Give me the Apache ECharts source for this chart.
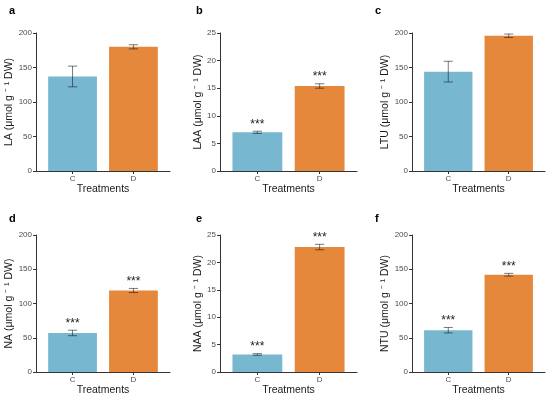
<!DOCTYPE html>
<html><head><meta charset="utf-8">
<script src="https://cdn.jsdelivr.net/npm/echarts@6/dist/echarts.min.js"></script>
<style>html,body{margin:0;padding:0;background:#fff}#c{width:550px;height:398px}</style>
</head><body><div id="c"></div>
<script>
const categories = ['C', 'D'];
const panelLetters = ['a', 'b', 'c', 'd', 'e', 'f'];
const yNames = ['LA', 'LAA', 'LTU', 'NA', 'NAA', 'NTU'];
const means_LA = [137, 180];   const se_LA = [15, 3];
const means_LAA = [7.0, 15.4]; const se_LAA = [0.2, 0.4];
const means_LTU = [144, 196];  const se_LTU = [15, 2.5];
const means_NA = [57, 119];    const se_NA = [4, 3];
const means_NAA = [3.2, 22.8]; const se_NAA = [0.15, 0.5];
const means_NTU = [61, 142];   const se_NTU = [4, 2];
const significant = [false, true, false, true, true, true];
const yMax = [200, 25, 200, 200, 25, 200];
const yInterval = [50, 5, 50, 50, 5, 50];
const barColors = ['#77b7d0', '#e5883b'];

const allMeans = [means_LA, means_LAA, means_LTU, means_NA, means_NAA, means_NTU];
const allSe = [se_LA, se_LAA, se_LTU, se_NA, se_NAA, se_NTU];

const grids = [
  {left: 36, top: 33, width: 134, height: 138},
  {left: 220, top: 33, width: 137, height: 138},
  {left: 412, top: 33, width: 133, height: 138},
  {left: 36, top: 235, width: 134, height: 137},
  {left: 220, top: 235, width: 137, height: 137},
  {left: 412, top: 235, width: 133, height: 137}
];
const letterPos = [[9, 5], [196, 5], [375, 5], [9, 213], [196, 213], [375, 213]];
const FONT = '"Liberation Sans", Arial, sans-serif';

const xAxes = [], yAxes = [], series = [], graphics = [];
grids.forEach((g, i) => {
  g.outerBoundsMode = 'none';
  g.containLabel = false;
  xAxes.push({
    type: 'value', gridIndex: i, min: 0.4, max: 2.6,
    name: 'Treatments', nameLocation: 'middle', nameGap: 13,
    nameTextStyle: {fontFamily: FONT, fontSize: 10.5, color: '#1a1a1a'},
    axisLine: {show: true, onZero: false, lineStyle: {color: '#333', width: 1}},
    axisTick: {show: true, length: 3, customValues: [1, 2], lineStyle: {color: '#333'}},
    axisLabel: {show: true, customValues: [1, 2], margin: 4, fontFamily: FONT, fontSize: 8, color: '#4d4d4d',
      formatter: v => categories[Math.round(v) - 1]},
    splitLine: {show: false}
  });
  yAxes.push({
    type: 'value', gridIndex: i, min: 0, max: yMax[i], interval: yInterval[i],
    name: yNames[i] + ' (μmol g ⁻ ¹ DW)', nameLocation: 'middle',
    nameGap: yMax[i] === 25 ? 16 : 21,
    nameTextStyle: {fontFamily: FONT, fontSize: 10.5, color: '#1a1a1a'},
    axisLine: {show: true, lineStyle: {color: '#333', width: 1}},
    axisTick: {show: true, length: 3, lineStyle: {color: '#333'}},
    axisLabel: {margin: 4, fontFamily: FONT, fontSize: 8, color: '#4d4d4d'},
    splitLine: {show: false}
  });
  const data = categories.map((c, k) => [k + 1, allMeans[i][k], allSe[i][k]]);
  const sig = significant[i];
  series.push({
    type: 'custom', xAxisIndex: i, yAxisIndex: i, data: data,
    renderItem: (params, api) => {
      const x = api.value(0), m = api.value(1), s = api.value(2);
      const p0 = api.coord([x - 0.4, m]);
      const p1 = api.coord([x + 0.4, 0]);
      const top = api.coord([x, m + s]);
      const bot = api.coord([x, m - s]);
      const capL = api.coord([x - 0.075, m + s])[0];
      const capR = api.coord([x + 0.075, m + s])[0];
      const k = params.dataIndex;
      const children = [
        {type: 'rect', shape: {x: p0[0], y: p0[1], width: p1[0] - p0[0], height: p1[1] - p0[1]},
          style: {fill: barColors[k]}},
        {type: 'line', shape: {x1: top[0], y1: top[1], x2: bot[0], y2: bot[1]},
          style: {stroke: 'rgba(30,30,30,0.75)', lineWidth: 0.8}},
        {type: 'line', shape: {x1: capL, y1: top[1], x2: capR, y2: top[1]},
          style: {stroke: 'rgba(30,30,30,0.75)', lineWidth: 0.8}},
        {type: 'line', shape: {x1: capL, y1: bot[1], x2: capR, y2: bot[1]},
          style: {stroke: 'rgba(30,30,30,0.75)', lineWidth: 0.8}}
      ];
      if (sig) {
        children.push({type: 'text', x: top[0], y: top[1] - 1,
          style: {text: '***', fill: '#222', fontSize: 12, fontFamily: FONT, align: 'center', verticalAlign: 'bottom'}});
      }
      return {type: 'group', children: children};
    }
  });
  graphics.push({type: 'text', left: letterPos[i][0], top: letterPos[i][1],
    style: {text: panelLetters[i], fontFamily: FONT, fontSize: 11, fontWeight: 'bold', fill: '#000'}});
});

const chart = echarts.init(document.getElementById('c'), null, {renderer: 'canvas'});
chart.setOption({
  animation: false,
  backgroundColor: '#fff',
  grid: grids, xAxis: xAxes, yAxis: yAxes, series: series, graphic: graphics
});
</script></body></html>
